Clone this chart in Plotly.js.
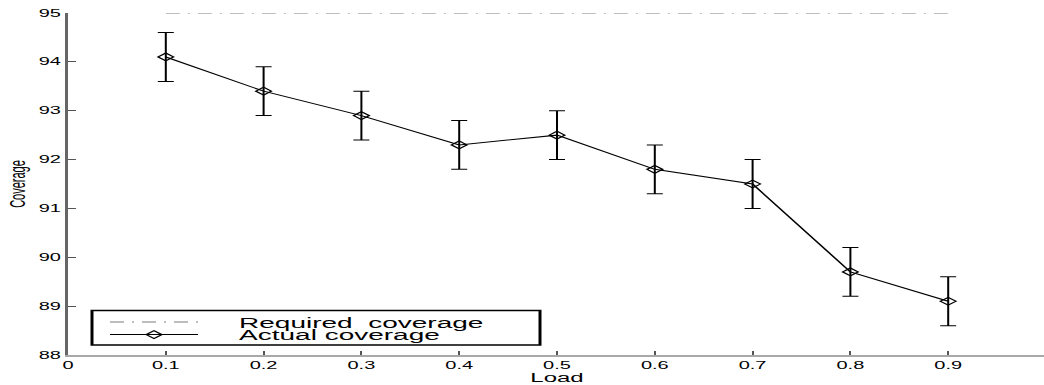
<!DOCTYPE html>
<html><head><meta charset="utf-8">
<script src="https://cdn.plot.ly/plotly-3.0.1.min.js"></script>
<style>
html,body{margin:0;padding:0;overflow:hidden;background:#fff;width:1044px;height:385px}
#wrap{width:523px;height:385px;transform:scaleX(2);transform-origin:0 0;}
</style></head><body>
<div id="wrap"><div id="chart" style="width:523px;height:385px"></div></div>
<script>
const loads = [0.1, 0.2, 0.3, 0.4, 0.5, 0.6, 0.7, 0.8, 0.9];
const actualCoverage = [94.1, 93.4, 92.9, 92.3, 92.5, 91.8, 91.5, 89.7, 89.1];
const coverageError = [0.5, 0.5, 0.5, 0.5, 0.5, 0.5, 0.5, 0.5, 0.5];
const requiredX = [0.1, 0.9];
const requiredY = [95, 95];
const xTickVals = [0, 0.1, 0.2, 0.3, 0.4, 0.5, 0.6, 0.7, 0.8, 0.9, 1];
const xTickText = ['0', '0.1', '0.2', '0.3', '0.4', '0.5', '0.6', '0.7', '0.8', '0.9', '1'];
const yTickVals = [88, 89, 90, 91, 92, 93, 94, 95];
const yTickText = ['88', '89', '90', '91', '92', '93', '94', '95'];
const seriesNames = ['Required\u00a0\u00a0coverage', 'Actual coverage'];

const PW = 489, L = 34, B = 355, PH = 342;
const px = v => (v - L) / PW;
const py = v => (B - v) / PH;
const pad = '\u00a0'.repeat(4);

const traces = [
  {
    x: requiredX, y: requiredY, type: 'scatter', mode: 'lines',
    name: pad + seriesNames[0], legend: 'legend',
    line: {color: '#a8a8a8', width: 1.5, dash: '7px,4px,1px,4px'},
    hoverinfo: 'skip'
  },
  {
    x: loads, y: actualCoverage, type: 'scatter', mode: 'lines+markers',
    name: pad + seriesNames[1], legend: 'legend2',
    line: {color: '#000', width: 1},
    marker: {symbol: 'diamond-open', size: 6, color: '#000', line: {width: 1, color: '#000'}},
    error_y: {type: 'data', array: coverageError, visible: true, color: '#000', thickness: 1, width: 4}
  }
];

const legendFont = {family: 'Arial, Liberation Sans, sans-serif', size: 14, color: '#000'};
const layout = {
  width: 523, height: 385,
  margin: {l: L, r: 0, t: 13, b: 30},
  paper_bgcolor: '#fff', plot_bgcolor: '#fff',
  showlegend: true,
  legend: {x: px(50), y: py(322.5), xanchor: 'left', yanchor: 'middle', bgcolor: 'rgba(0,0,0,0)', borderwidth: 0, font: legendFont, itemwidth: 44},
  legend2: {x: px(50), y: py(335), xanchor: 'left', yanchor: 'middle', bgcolor: 'rgba(0,0,0,0)', borderwidth: 0, font: legendFont, itemwidth: 44},
  xaxis: {
    range: [0, 1], tickvals: xTickVals, ticktext: xTickText,
    showgrid: false, zeroline: false, showline: true, linecolor: '#a8a8a8', linewidth: 2,
    ticks: 'inside', ticklen: 4, tickcolor: '#555', tickwidth: 1,
    tickfont: {family: 'Arial, Liberation Sans, sans-serif', size: 10, color: '#000'},
    title: {text: 'Load', font: {family: 'Arial, Liberation Sans, sans-serif', size: 12, color: '#000'}, standoff: 0},
    fixedrange: true
  },
  yaxis: {
    range: [88, 95], tickvals: yTickVals, ticktext: yTickText,
    showgrid: false, zeroline: false, showline: true, linecolor: '#666', linewidth: 1.5,
    ticks: 'inside', ticklen: 4, tickcolor: '#555', tickwidth: 1,
    tickfont: {family: 'Arial, Liberation Sans, sans-serif', size: 10, color: '#000'},
    title: {text: 'Coverage', font: {family: 'Arial, Liberation Sans, sans-serif', size: 11, color: '#000'}, standoff: 4},
    fixedrange: true
  },
  shapes: [
    {type: 'rect', xref: 'paper', yref: 'paper', x0: px(46), x1: px(270), y0: py(345), y1: py(310.5),
     line: {color: '#000', width: 1.5}, fillcolor: 'rgba(0,0,0,0)'}
  ]
};

Plotly.newPlot('chart', traces, layout, {displayModeBar: false, staticPlot: true});
</script>
</body></html>
